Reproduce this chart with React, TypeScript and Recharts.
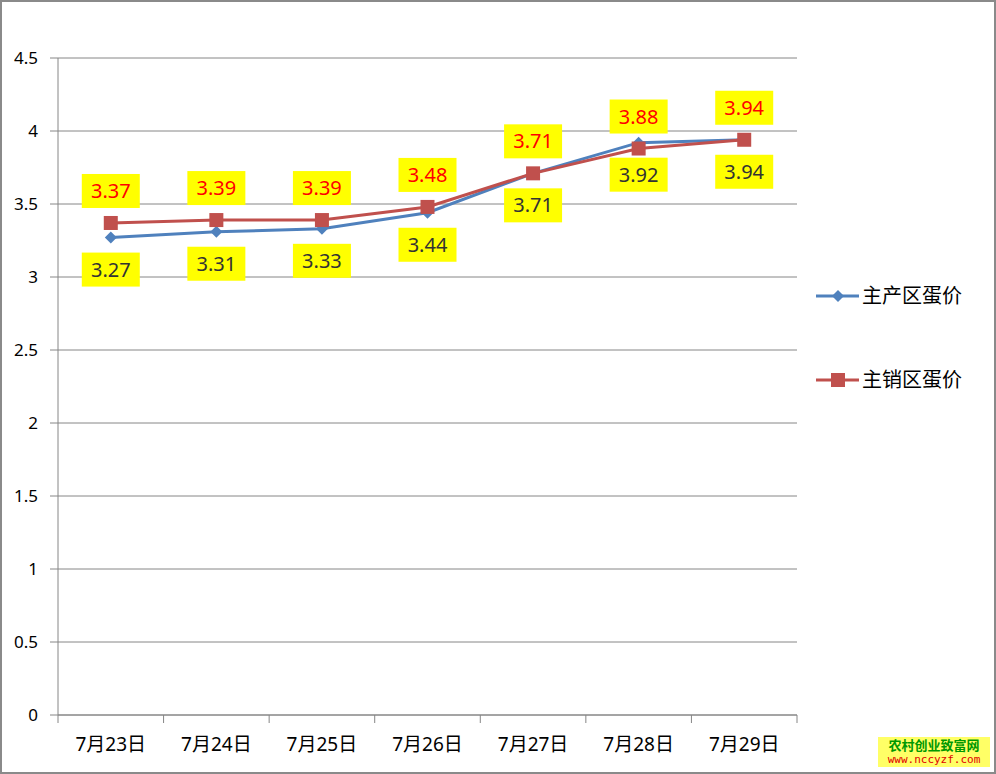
import { CartesianGrid, LabelList, Line, LineChart, XAxis, YAxis } from 'recharts';

const days = ['7月23日', '7月24日', '7月25日', '7月26日', '7月27日', '7月28日', '7月29日'];
const producing = [3.27, 3.31, 3.33, 3.44, 3.71, 3.92, 3.94];
const selling = [3.37, 3.39, 3.39, 3.48, 3.71, 3.88, 3.94];
const yTicks = [0, 0.5, 1, 1.5, 2, 2.5, 3, 3.5, 4, 4.5];

const data = days.map((day, i) => ({ day, producing: producing[i], selling: selling[i] }));

const BLUE = '#4F81BD';
const RED = '#C0504D';
const FONT = '"Noto Sans", "Noto Sans CJK SC", sans-serif';
const BAND = 739 / days.length;

function XTick(props: any) {
  const { x, y, payload, index } = props;
  return (
    <g>
      <line x1={x - BAND / 2} y1={y - 8} x2={x - BAND / 2} y2={y} stroke="#868686" />
      {index === days.length - 1 && (
        <line x1={x + BAND / 2} y1={y - 8} x2={x + BAND / 2} y2={y} stroke="#868686" />
      )}
      <text x={x} y={y + 28} textAnchor="middle" fontSize={19} fill="#000" fontFamily={FONT}>
        {payload.value}
      </text>
    </g>
  );
}

function makeLabel(below: boolean, color: string) {
  return (props: any) => {
    const { x, y, value } = props;
    const cy = below ? y + 32 : y - 32;
    return (
      <g>
        <rect x={x - 29} y={cy - 17} width={58} height={34} fill="#FFFF00" />
        <text x={x} y={cy + 7} textAnchor="middle" fontSize={20} fill={color} fontFamily={FONT}>
          {value.toFixed(2)}
        </text>
      </g>
    );
  };
}

function Diamond(props: any) {
  const { cx, cy } = props;
  return <path d={`M${cx},${cy - 6} L${cx + 6},${cy} L${cx},${cy + 6} L${cx - 6},${cy} Z`} fill={BLUE} />;
}

function Square(props: any) {
  const { cx, cy } = props;
  return <rect x={cx - 7} y={cy - 7} width={14} height={14} fill={RED} />;
}

function LegendBox() {
  const items = [
    { name: '主产区蛋价', color: BLUE, square: false },
    { name: '主销区蛋价', color: RED, square: true },
  ];
  return (
    <svg width={190} height={140} style={{ position: 'absolute', left: 800, top: 266 }}>
      {items.map((it, i) => {
        const y = 30 + i * 84;
        return (
          <g key={it.name}>
            <line x1={16} y1={y} x2={59} y2={y} stroke={it.color} strokeWidth={3} />
            {it.square ? (
              <rect x={31} y={y - 7} width={14} height={14} fill={it.color} />
            ) : (
              <path d={`M38,${y - 6} L44,${y} L38,${y + 6} L32,${y} Z`} fill={it.color} />
            )}
            <text x={62} y={y + 7} fontSize={20} fill="#000" fontFamily={FONT}>
              {it.name}
            </text>
          </g>
        );
      })}
    </svg>
  );
}

export default function App() {
  return (
    <div style={{ position: 'absolute', left: 0, top: 0, width: 996, height: 774, background: '#fff' }}>
      <div
        style={{
          position: 'absolute',
          left: 0,
          top: 0,
          width: 992,
          height: 770,
          border: '2px solid #8a8a8a',
        }}
      />
      <LineChart width={996} height={774} data={data} margin={{ top: 58, right: 199, bottom: 29, left: 8 }}>
        <CartesianGrid vertical={false} stroke="#868686" />
        <XAxis
          dataKey="day"
          stroke="#868686"
          tickLine={false}
          tick={<XTick />}
          height={30}
          interval={0}
          padding={{ left: BAND / 2, right: BAND / 2 }}
        />
        <YAxis
          domain={[0, 4.5]}
          ticks={yTicks}
          width={50}
          stroke="#868686"
          tickSize={8}
          tickMargin={12}
          tick={{ fontSize: 17, fill: '#000', fontFamily: FONT }}
        />
        <Line
          dataKey="producing"
          name="主产区蛋价"
          stroke={BLUE}
          strokeWidth={3}
          dot={<Diamond />}
          isAnimationActive={false}
        >
          <LabelList dataKey="producing" content={makeLabel(true, '#333')} />
        </Line>
        <Line
          dataKey="selling"
          name="主销区蛋价"
          stroke={RED}
          strokeWidth={3}
          dot={<Square />}
          isAnimationActive={false}
        >
          <LabelList dataKey="selling" content={makeLabel(false, '#FF0000')} />
        </Line>
      </LineChart>
      <LegendBox />
      <div
        style={{
          position: 'absolute',
          left: 878,
          top: 737,
          width: 112,
          background: '#FFFF66',
          textAlign: 'center',
          lineHeight: '15px',
          fontFamily: '"Noto Sans CJK SC", sans-serif',
          fontSize: 12,
        }}
      >
        <div style={{ color: '#009900', fontWeight: 'bold', fontSize: 13 }}>农村创业致富网</div>
        <div style={{ color: '#E00000', fontFamily: '"DejaVu Sans Mono", monospace', fontSize: 11 }}>
          www.nccyzf.com
        </div>
      </div>
    </div>
  );
}
